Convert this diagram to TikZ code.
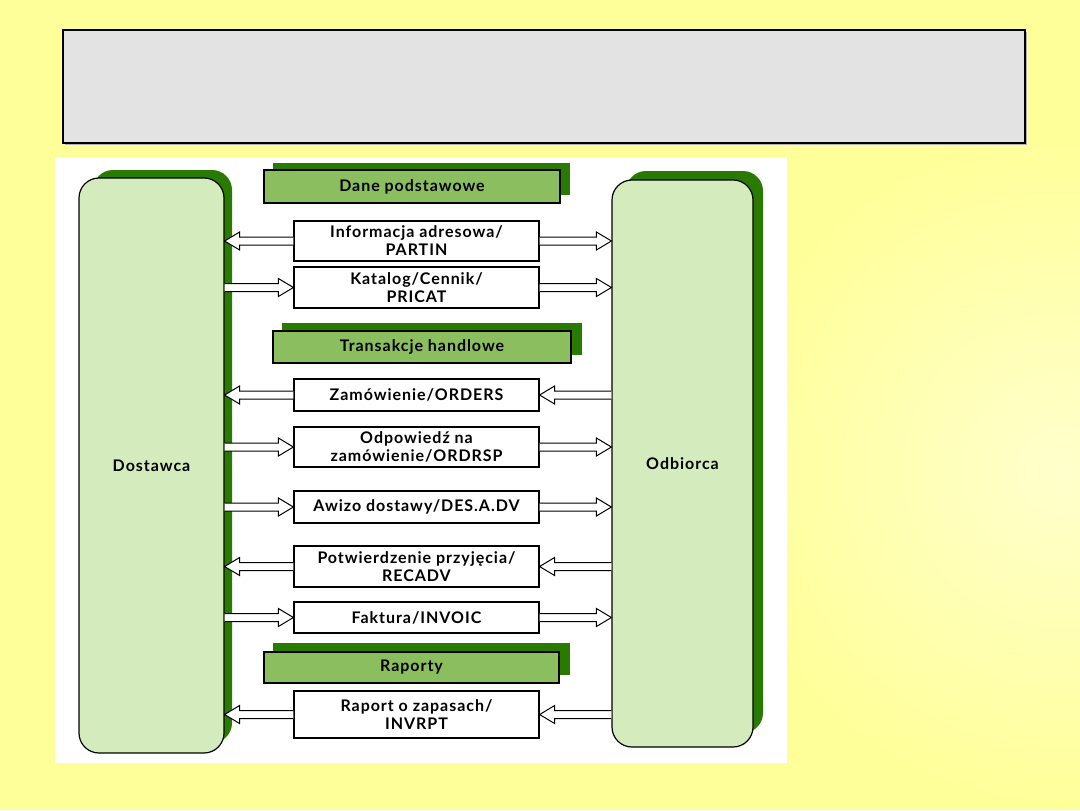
\documentclass[tikz,border=0pt]{standalone}
\usepackage{fontspec}
\setmainfont{Lato}
\newfontfamily\lab[LetterSpace=6]{Lato}
\usetikzlibrary{calc}
\definecolor{bgyel}{HTML}{FFFF99}
\definecolor{bglight}{HTML}{FFFFCC}
\definecolor{panelgray}{HTML}{E3E3E3}
\definecolor{ltgreen}{HTML}{D4ECBD}
\definecolor{mdgreen}{HTML}{8BBE5F}
\definecolor{dkgreen}{HTML}{287A00}
\newcommand\barrow[2]{%
  \path (#1) coordinate (ba) (#2) coordinate (bb);
  \fill[white] let \p1=(ba),\p2=(bb),\p3=($(bb)!7.5pt!(ba)$) in
    (\x1,\y1+2pt) -- (\x3,\y1+2pt) -- (\x3,\y1+4.5pt) -- (\x2,\y2) --
    (\x3,\y1-4.5pt) -- (\x3,\y1-2pt) -- (\x1,\y1-2pt) -- cycle;
  \draw[arr] let \p1=(ba),\p2=(bb),\p3=($(bb)!7.5pt!(ba)$) in
    (\x1,\y1+2pt) -- (\x3,\y1+2pt) -- (\x3,\y1+4.5pt) -- (\x2,\y2) --
    (\x3,\y1-4.5pt) -- (\x3,\y1-2pt) -- (\x1,\y1-2pt);}
\begin{document}
\begin{tikzpicture}[x=0.5pt,y=-0.5pt,
  every node/.style={font=\lab\bfseries\fontsize{8}{9}\selectfont, align=center, inner sep=0pt},
  party/.style={draw=black, line width=0.6pt, fill=ltgreen, rounded corners=10pt},
  partyshadow/.style={fill=dkgreen, rounded corners=10pt},
  header/.style={draw=black, line width=0.6pt, fill=mdgreen, minimum width=148pt, minimum height=16pt},
  headershadow/.style={fill=dkgreen},
  msg/.style={draw=black, line width=0.6pt, fill=white, minimum width=122.5pt},
  arr/.style={draw=black, line width=0.5pt, line join=miter},
  titlebox/.style={draw=black, line width=0.8pt, fill=panelgray}]
\useasboundingbox (0,0) rectangle (1080,810);
\fill[bgyel] (0,0) rectangle (1080,810);
\begin{scope}
  \clip (0,0) rectangle (1080,810);
  \shade[inner color=bglight, outer color=bgyel] (1060,470) circle[radius=170pt];
\end{scope}
% title panel
\fill[gray!60] (65,32) rectangle (1027,145);
\node[titlebox, minimum width=481pt, minimum height=56.5pt] (title) at (544,86.5) {};
% white panel
\fill[white] (55,157) rectangle (787,763);
% parties
\fill[partyshadow] (93,170) rectangle (232,743);
\node[party, minimum width=72.5pt, minimum height=287.5pt] (D) at (151.5,465.5) {Dostawca};
\fill[partyshadow] (626,171) rectangle (763,733);
\node[party, minimum width=70.5pt, minimum height=283.5pt] (O) at (682.5,463.5) {Odbiorca};
% headers
\fill[headershadow] (273,163) rectangle (570,195);
\node[header, minimum height=16.5pt] (h1) at (412,186.5) {Dane podstawowe};
\fill[headershadow] (282,323) rectangle (582,355);
\node[header, minimum width=149pt] (h2) at (422,347) {Transakcje handlowe};
\fill[headershadow] (273,643) rectangle (570,675);
\node[header, minimum width=147.5pt, minimum height=15.5pt] (h3) at (411.5,667.5) {Raporty};
% messages
\node[msg, minimum height=20pt] (m1) at (416.5,241) {Informacja adresowa/\\PARTIN};
\node[msg, minimum height=20.5pt] (m2) at (416.5,287.5) {Katalog/Cennik/\\PRICAT};
\node[msg, minimum height=16pt] (m3) at (416.5,395) {Zamówienie/ORDERS};
\node[msg, minimum height=20pt] (m4) at (416.5,447) {Odpowiedź na\\zamówienie/ORDRSP};
\node[msg, minimum height=16pt] (m5) at (416.5,507) {Awizo dostawy/DES.A.DV};
\node[msg, minimum height=20.5pt] (m6) at (416.5,566.5) {Potwierdzenie przyjęcia/\\RECADV};
\node[msg, minimum height=15.5pt] (m7) at (416.5,617.5) {Faktura/INVOIC};
\node[msg, minimum height=23.5pt] (m8) at (416.5,714.5) {Raport o zapasach/\\INVRPT};
% arrows
\barrow{m1.west}{m1.west -| D.east}
\barrow{m1.east}{m1.east -| O.west}
\barrow{m2.west -| D.east}{m2.west}
\barrow{m2.east}{m2.east -| O.west}
\barrow{m3.west}{m3.west -| D.east}
\barrow{m3.east -| O.west}{m3.east}
\barrow{m4.west -| D.east}{m4.west}
\barrow{m4.east}{m4.east -| O.west}
\barrow{m5.west -| D.east}{m5.west}
\barrow{m5.east}{m5.east -| O.west}
\barrow{m6.west}{m6.west -| D.east}
\barrow{m6.east -| O.west}{m6.east}
\barrow{m7.west -| D.east}{m7.west}
\barrow{m7.east}{m7.east -| O.west}
\barrow{m8.west}{m8.west -| D.east}
\barrow{m8.east -| O.west}{m8.east}
\end{tikzpicture}
\end{document}
